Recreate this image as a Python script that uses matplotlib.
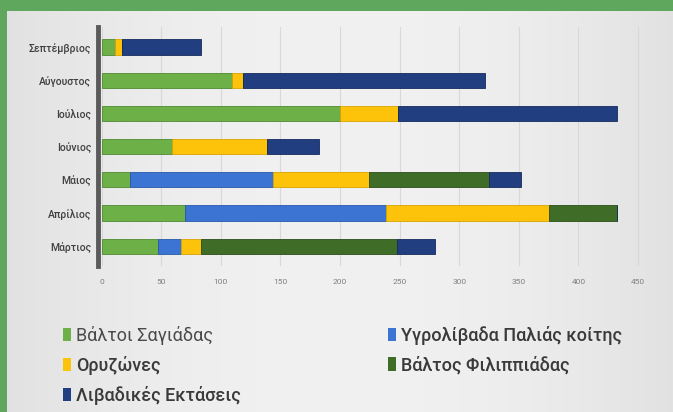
import numpy as np
import matplotlib
matplotlib.use("Agg")
import matplotlib.pyplot as plt
from matplotlib.patches import Patch

plt.rcParams['font.family'] = ['Roboto', 'DejaVu Sans']

months = ['Μάρτιος', 'Απρίλιος', 'Μάιος', 'Ιούνιος', 'Ιούλιος', 'Αύγουστος', 'Σεπτέμβριος']
series = ['Βάλτοι Σαγιάδας', 'Υγρολίβαδα Παλιάς κοίτης', 'Ορυζώνες',
          'Βάλτος Φιλιππιάδας', 'Λιβαδικές Εκτάσεις']
sag = [47, 70, 24, 59, 200, 109, 11]
ygr = [20, 169, 120, 0, 0, 0, 0]
oryz = [16, 136, 80, 80, 49, 10, 6]
fil = [165, 57, 101, 0, 0, 0, 0]
liv = [32, 0, 27, 43, 183, 203, 66]
xticks = [0, 50, 100, 150, 200, 250, 300, 350, 400, 450]

colors = ['#6db048', '#3c74d4', '#fcc30a', '#3f6d27', '#213f80']
edges = ['#4f8a32', '#2a58a8', '#d9a400', '#2b4d1a', '#152b5c']

fig = plt.figure(figsize=(6.73, 4.12), dpi=100)
fig.patch.set_facecolor('#5ea75c')

# light gray panel, slightly lighter in the middle
bg = fig.add_axes([7 / 673, 0, 1 - 7 / 673, 1 - 11 / 412])
g = np.linspace(0, 1, 200)
g = 0.885 + 0.06 * (1 - (2 * g - 1) ** 2)
img = np.dstack([g, g, g])[np.newaxis, :, :].reshape(1, -1, 3)
bg.imshow(img, aspect='auto', extent=[0, 1, 0, 1])
bg.set_axis_off()

ax = fig.add_axes([98 / 673, 0.354, 543.6 / 673, 0.58])
ax.patch.set_alpha(0)

y = np.arange(len(months))
data = [sag, ygr, oryz, fil, liv]
left = np.zeros(len(months))
for vals, name, c, e in zip(data, series, colors, edges):
    ax.barh(y, vals, left=left, height=0.46, color=c, edgecolor=e,
            linewidth=0.6, label=name, zorder=3)
    left += np.array(vals)

ax.set_xlim(-3, 453)
ax.set_ylim(-0.6, 6.6)
ax.set_xticks(xticks)
ax.set_yticks(y)
ax.set_yticklabels(months, fontsize=7.5, color='#404040', fontweight='medium')
ax.tick_params(axis='x', labelsize=6, labelcolor='#808080', length=0, pad=9)
ax.tick_params(axis='y', length=0, pad=5)
ax.grid(axis='x', color='#d8d8d8', linewidth=0.8, zorder=0)
for s in ['top', 'right', 'bottom']:
    ax.spines[s].set_visible(False)
ax.spines['left'].set_color('#5a5a5a')
ax.spines['left'].set_linewidth(3.5)
ax.spines['left'].set_zorder(4)

h = [Patch(facecolor=c) for c in colors]
leg_kw = dict(loc='upper left', frameon=False, fontsize=13, handlelength=0.45,
              handleheight=0.75, handletextpad=0.25, labelspacing=0.6, borderpad=0)
leg1 = fig.legend([h[0], h[2], h[4]], [series[0], series[2], series[4]],
                  bbox_to_anchor=(54 / 673, 1 - 317 / 412), **leg_kw)
leg2 = fig.legend([h[1], h[3]], [series[1], series[3]],
                  bbox_to_anchor=(379 / 673, 1 - 317 / 412), **leg_kw)
for leg in (leg1, leg2):
    for t in leg.get_texts():
        t.set_color('#3a3a3a')
        t.set_fontweight('medium')
leg1.get_texts()[0].set_fontweight('normal')
leg1.get_texts()[0].set_color('#4a4a4a')

fig.savefig('out.png', dpi=100, facecolor=fig.get_facecolor())
